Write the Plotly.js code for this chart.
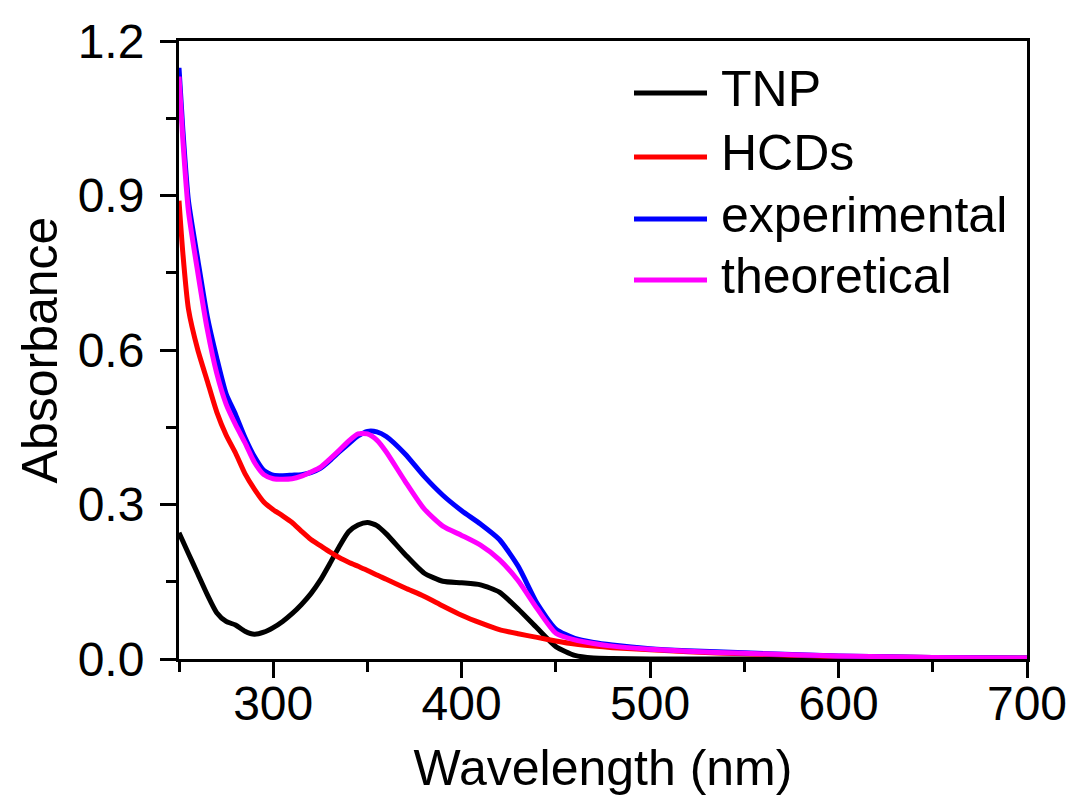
<!DOCTYPE html>
<html>
<head>
<meta charset="utf-8">
<script src="https://cdn.plot.ly/plotly-3.0.1.min.js"></script>
<style>html,body{margin:0;padding:0;background:#fff;}#chart{width:1077px;height:796px;}</style>
</head>
<body>
<div id="chart"></div>
<script>
// Wavelength grid (nm)
const wavelength = [250,252,255,260,265,270,275,280,285,290,295,300,305,310,315,320,325,330,335,340,345,350,355,360,370,380,390,400,410,420,430,440,450,460,470,480,500,520,550,600,650,700];
// Absorbance series
const tnp = [0.245,0.229,0.205,0.165,0.125,0.090,0.073,0.066,0.054,0.048,0.052,0.061,0.073,0.088,0.106,0.127,0.153,0.185,0.218,0.247,0.260,0.265,0.259,0.243,0.203,0.167,0.151,0.148,0.144,0.130,0.097,0.060,0.024,0.007,0.002,0.001,0,0,0,0,0,0];
const hcds = [0.890,0.790,0.680,0.600,0.540,0.480,0.435,0.400,0.360,0.330,0.305,0.290,0.278,0.265,0.248,0.232,0.220,0.208,0.197,0.188,0.180,0.172,0.163,0.155,0.138,0.122,0.103,0.085,0.070,0.057,0.049,0.042,0.035,0.029,0.025,0.022,0.018,0.014,0.010,0.005,0.003,0.002];
const experimental = [1.148,1.030,0.890,0.775,0.665,0.585,0.515,0.475,0.430,0.393,0.366,0.357,0.356,0.357,0.358,0.362,0.370,0.385,0.402,0.418,0.433,0.442,0.441,0.432,0.398,0.355,0.318,0.288,0.262,0.232,0.180,0.108,0.058,0.040,0.032,0.027,0.020,0.016,0.012,0.006,0.003,0.002];
const theoretical = [1.131,1.010,0.870,0.750,0.640,0.555,0.495,0.455,0.420,0.382,0.358,0.350,0.349,0.350,0.355,0.363,0.372,0.388,0.405,0.423,0.437,0.437,0.425,0.402,0.345,0.292,0.258,0.240,0.221,0.193,0.152,0.098,0.050,0.037,0.030,0.025,0.019,0.015,0.011,0.006,0.003,0.002];

const seriesNames = ['TNP','HCDs','experimental','theoretical'];
const seriesValues = [tnp, hcds, experimental, theoretical];
const seriesColors = ['#000000','#ff0000','#0000ff','#ff00ff'];

const FONT = 'Liberation Sans, Arial, sans-serif';
const W = 1077, H = 796;
const M = {l: 179, r: 50, t: 41, b: 137};
const PW = W - M.l - M.r, PH = H - M.t - M.b;
const px2x = px => (px - M.l) / PW;
const px2y = py => (H - M.b - py) / PH;

const traces = seriesNames.map((name, i) => ({
  x: wavelength,
  y: seriesValues[i],
  name: name,
  type: 'scatter',
  mode: 'lines',
  showlegend: false,
  line: {color: seriesColors[i], width: 5, shape: 'spline', smoothing: 0.6}
}));

// Legend drawn as line samples + text (positions in pixels of the page)
const legendRowsPx = [93, 157, 219, 280];
const shapes = [], annotations = [];
seriesNames.forEach((name, i) => {
  const yl = px2y(legendRowsPx[i]);
  shapes.push({type: 'line', xref: 'paper', yref: 'paper', x0: px2x(634), x1: px2x(707), y0: yl, y1: yl,
               line: {color: seriesColors[i], width: 5}});
  annotations.push({xref: 'paper', yref: 'paper', x: px2x(719), y: px2y(legendRowsPx[i] - 4),
                    xanchor: 'left', yanchor: 'middle', showarrow: false, text: name,
                    font: {family: FONT, size: 50, color: '#000'}});
});

const layout = {
  width: W,
  height: H,
  paper_bgcolor: '#ffffff',
  plot_bgcolor: '#ffffff',
  margin: M,
  font: {family: FONT, color: '#000', size: 48},
  showlegend: false,
  shapes: shapes,
  annotations: annotations,
  xaxis: {
    range: [250, 700],
    tick0: 300, dtick: 100,
    ticks: 'outside', ticklen: 16, tickwidth: 3, tickcolor: '#000',
    minor: {dtick: 50, tick0: 250, ticks: 'outside', ticklen: 10, tickwidth: 3, tickcolor: '#000', showgrid: false},
    showline: true, linewidth: 3, linecolor: '#000', mirror: true,
    showgrid: false, zeroline: false,
    ticklabelstandoff: -16,
    tickfont: {family: FONT, size: 48, color: '#000'},
    title: {text: 'Wavelength (nm)', font: {family: FONT, size: 50, color: '#000'}, standoff: 24}
  },
  yaxis: {
    range: [0, 1.2],
    tick0: 0, dtick: 0.3, tickformat: '.1f',
    ticks: 'outside', ticklen: 16, tickwidth: 3, tickcolor: '#000',
    minor: {dtick: 0.15, tick0: 0, ticks: 'outside', ticklen: 10, tickwidth: 3, tickcolor: '#000', showgrid: false},
    showline: true, linewidth: 3, linecolor: '#000', mirror: true,
    showgrid: false, zeroline: false,
    ticklabelstandoff: 6,
    tickfont: {family: FONT, size: 48, color: '#000'},
    title: {text: 'Absorbance', font: {family: FONT, size: 50, color: '#000'}, standoff: 5}
  }
};

Plotly.newPlot('chart', traces, layout, {displayModeBar: false, staticPlot: true});
</script>
</body>
</html>
